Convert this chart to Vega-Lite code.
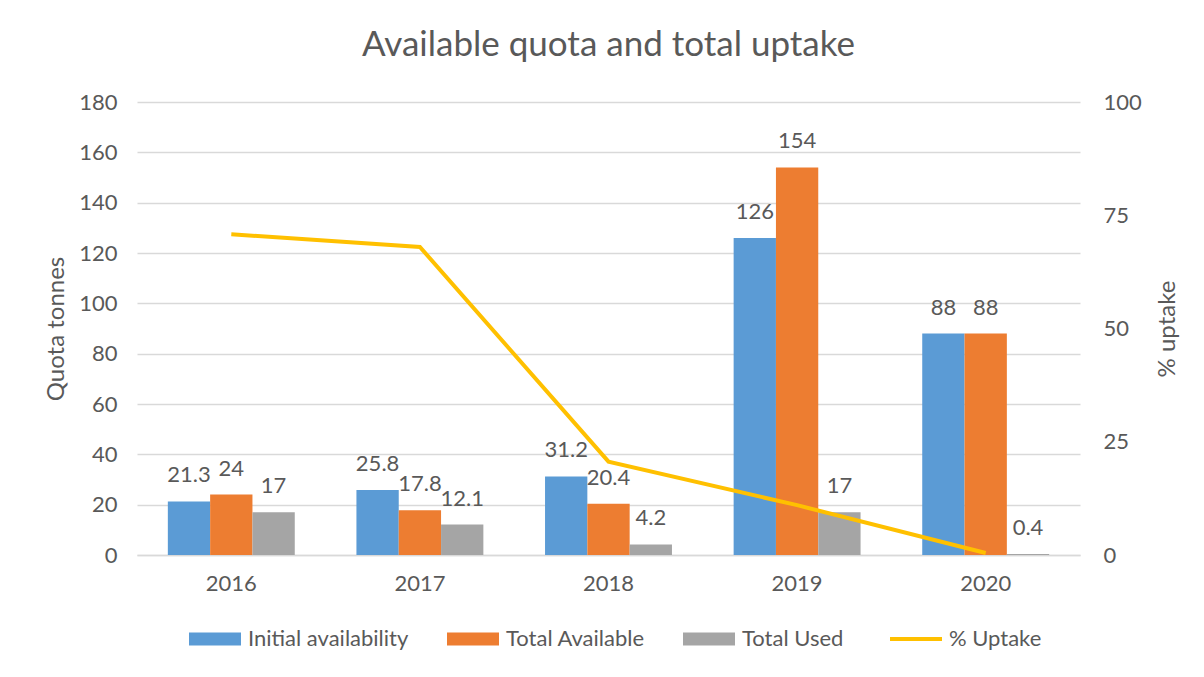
{
  "$schema": "https://vega.github.io/schema/vega-lite/v6.json",
  "width": 943,
  "height": 453,
  "autosize": {"type": "none"},
  "padding": {"left": 137, "top": 102, "right": 124, "bottom": 122},
  "background": "white",
  "title": {
    "text": "Available quota and total uptake",
    "font": "Lato",
    "fontSize": 35,
    "fontWeight": "normal",
    "color": "#595959",
    "anchor": "middle",
    "baseline": "alphabetic",
    "offset": 0
  },
  "datasets": {
    "bars": [
      {"year": "2016", "series": "Initial availability", "value": 21.3},
      {"year": "2016", "series": "Total Available", "value": 24},
      {"year": "2016", "series": "Total Used", "value": 17},
      {"year": "2017", "series": "Initial availability", "value": 25.8},
      {"year": "2017", "series": "Total Available", "value": 17.8},
      {"year": "2017", "series": "Total Used", "value": 12.1},
      {"year": "2018", "series": "Initial availability", "value": 31.2},
      {"year": "2018", "series": "Total Available", "value": 20.4},
      {"year": "2018", "series": "Total Used", "value": 4.2},
      {"year": "2019", "series": "Initial availability", "value": 126},
      {"year": "2019", "series": "Total Available", "value": 154},
      {"year": "2019", "series": "Total Used", "value": 17},
      {"year": "2020", "series": "Initial availability", "value": 88},
      {"year": "2020", "series": "Total Available", "value": 88},
      {"year": "2020", "series": "Total Used", "value": 0.4}
    ],
    "uptake": [
      {"year": "2016", "pct": 70.8},
      {"year": "2017", "pct": 68.0},
      {"year": "2018", "pct": 20.6},
      {"year": "2019", "pct": 11.0},
      {"year": "2020", "pct": 0.45}
    ]
  },
  "config": {
    "font": "Lato",
    "view": {"stroke": null},
    "axis": {
      "labelFont": "Lato",
      "labelFontSize": 22,
      "labelColor": "#595959",
      "titleFont": "Lato",
      "titleFontSize": 24,
      "titleFontWeight": "normal",
      "titleColor": "#595959",
      "ticks": false,
      "domain": false
    },
    "legend": {
      "labelFont": "Lato",
      "labelFontSize": 22,
      "labelColor": "#595959",
      "labelLimit": 0
    }
  },
  "layer": [
    {
      "data": {"name": "bars"},
      "encoding": {
        "x": {
          "field": "year",
          "type": "nominal",
          "scale": {"paddingInner": 0.327, "paddingOuter": 0.1635},
          "axis": {
            "title": null,
            "labelAngle": 0,
            "labelPadding": 18,
            "grid": false,
            "domain": true,
            "domainColor": "#D9D9D9",
            "domainWidth": 1.5
          }
        },
        "xOffset": {
          "field": "series",
          "type": "nominal",
          "scale": {"paddingInner": 0, "paddingOuter": 0, "domain": ["Initial availability", "Total Available", "Total Used"]}
        },
        "y": {
          "field": "value",
          "type": "quantitative",
          "scale": {"domain": [0, 180]},
          "axis": {
            "title": "Quota tonnes",
            "values": [0, 20, 40, 60, 80, 100, 120, 140, 160, 180],
            "grid": true,
            "gridColor": "#D9D9D9",
            "gridWidth": 1.5,
            "labelPadding": 20,
            "titlePadding": 10
          }
        }
      },
      "layer": [
        {
          "mark": {"type": "bar"},
          "encoding": {
            "color": {
              "field": "series",
              "type": "nominal",
              "scale": {
                "domain": ["Initial availability", "Total Available", "Total Used", "% Uptake"],
                "range": ["#5B9BD5", "#ED7D31", "#A5A5A5", "#FFC000"]
              },
              "legend": {
                "title": null,
                "orient": "none",
                "legendX": 67,
                "legendY": 526,
                "direction": "horizontal",
                "columnPadding": 38,
                "symbolSize": 2704,
                "labelOffset": 22,
                "labelLimit": 0,
                "encode": {
                  "symbols": {
                    "update": {
                      "shape": {"signal": "datum.label === '% Uptake' ? 'stroke' : 'M-1,-0.25H1V0.25H-1Z'"},
                      "strokeWidth": {"signal": "datum.label === '% Uptake' ? 4 : 0"},
                      "fill": {"scale": "color", "field": "value"},
                      "stroke": {"scale": "color", "field": "value"},
                      "opacity": {"value": 1},
                      "fillOpacity": {"value": 1},
                      "strokeOpacity": {"value": 1}
                    }
                  }
                }
              }
            }
          }
        },
        {
          "mark": {"type": "text", "baseline": "middle", "dy": -26, "fontSize": 22, "color": "#595959", "font": "Lato"},
          "encoding": {
            "text": {"field": "value", "type": "quantitative"}
          }
        }
      ]
    },
    {
      "data": {"name": "uptake"},
      "mark": {"type": "line", "strokeWidth": 4, "color": "#FFC000"},
      "encoding": {
        "x": {"field": "year", "type": "nominal"},
        "y": {
          "field": "pct",
          "type": "quantitative",
          "scale": {"domain": [0, 100]},
          "axis": {
            "orient": "right",
            "title": "% uptake",
            "values": [0, 25, 50, 75, 100],
            "grid": false,
            "labelPadding": 23,
            "titlePadding": 38,
            "titleAngle": 270
          }
        },
        "color": {"datum": "% Uptake"}
      }
    }
  ],
  "resolve": {"scale": {"y": "independent"}}
}
